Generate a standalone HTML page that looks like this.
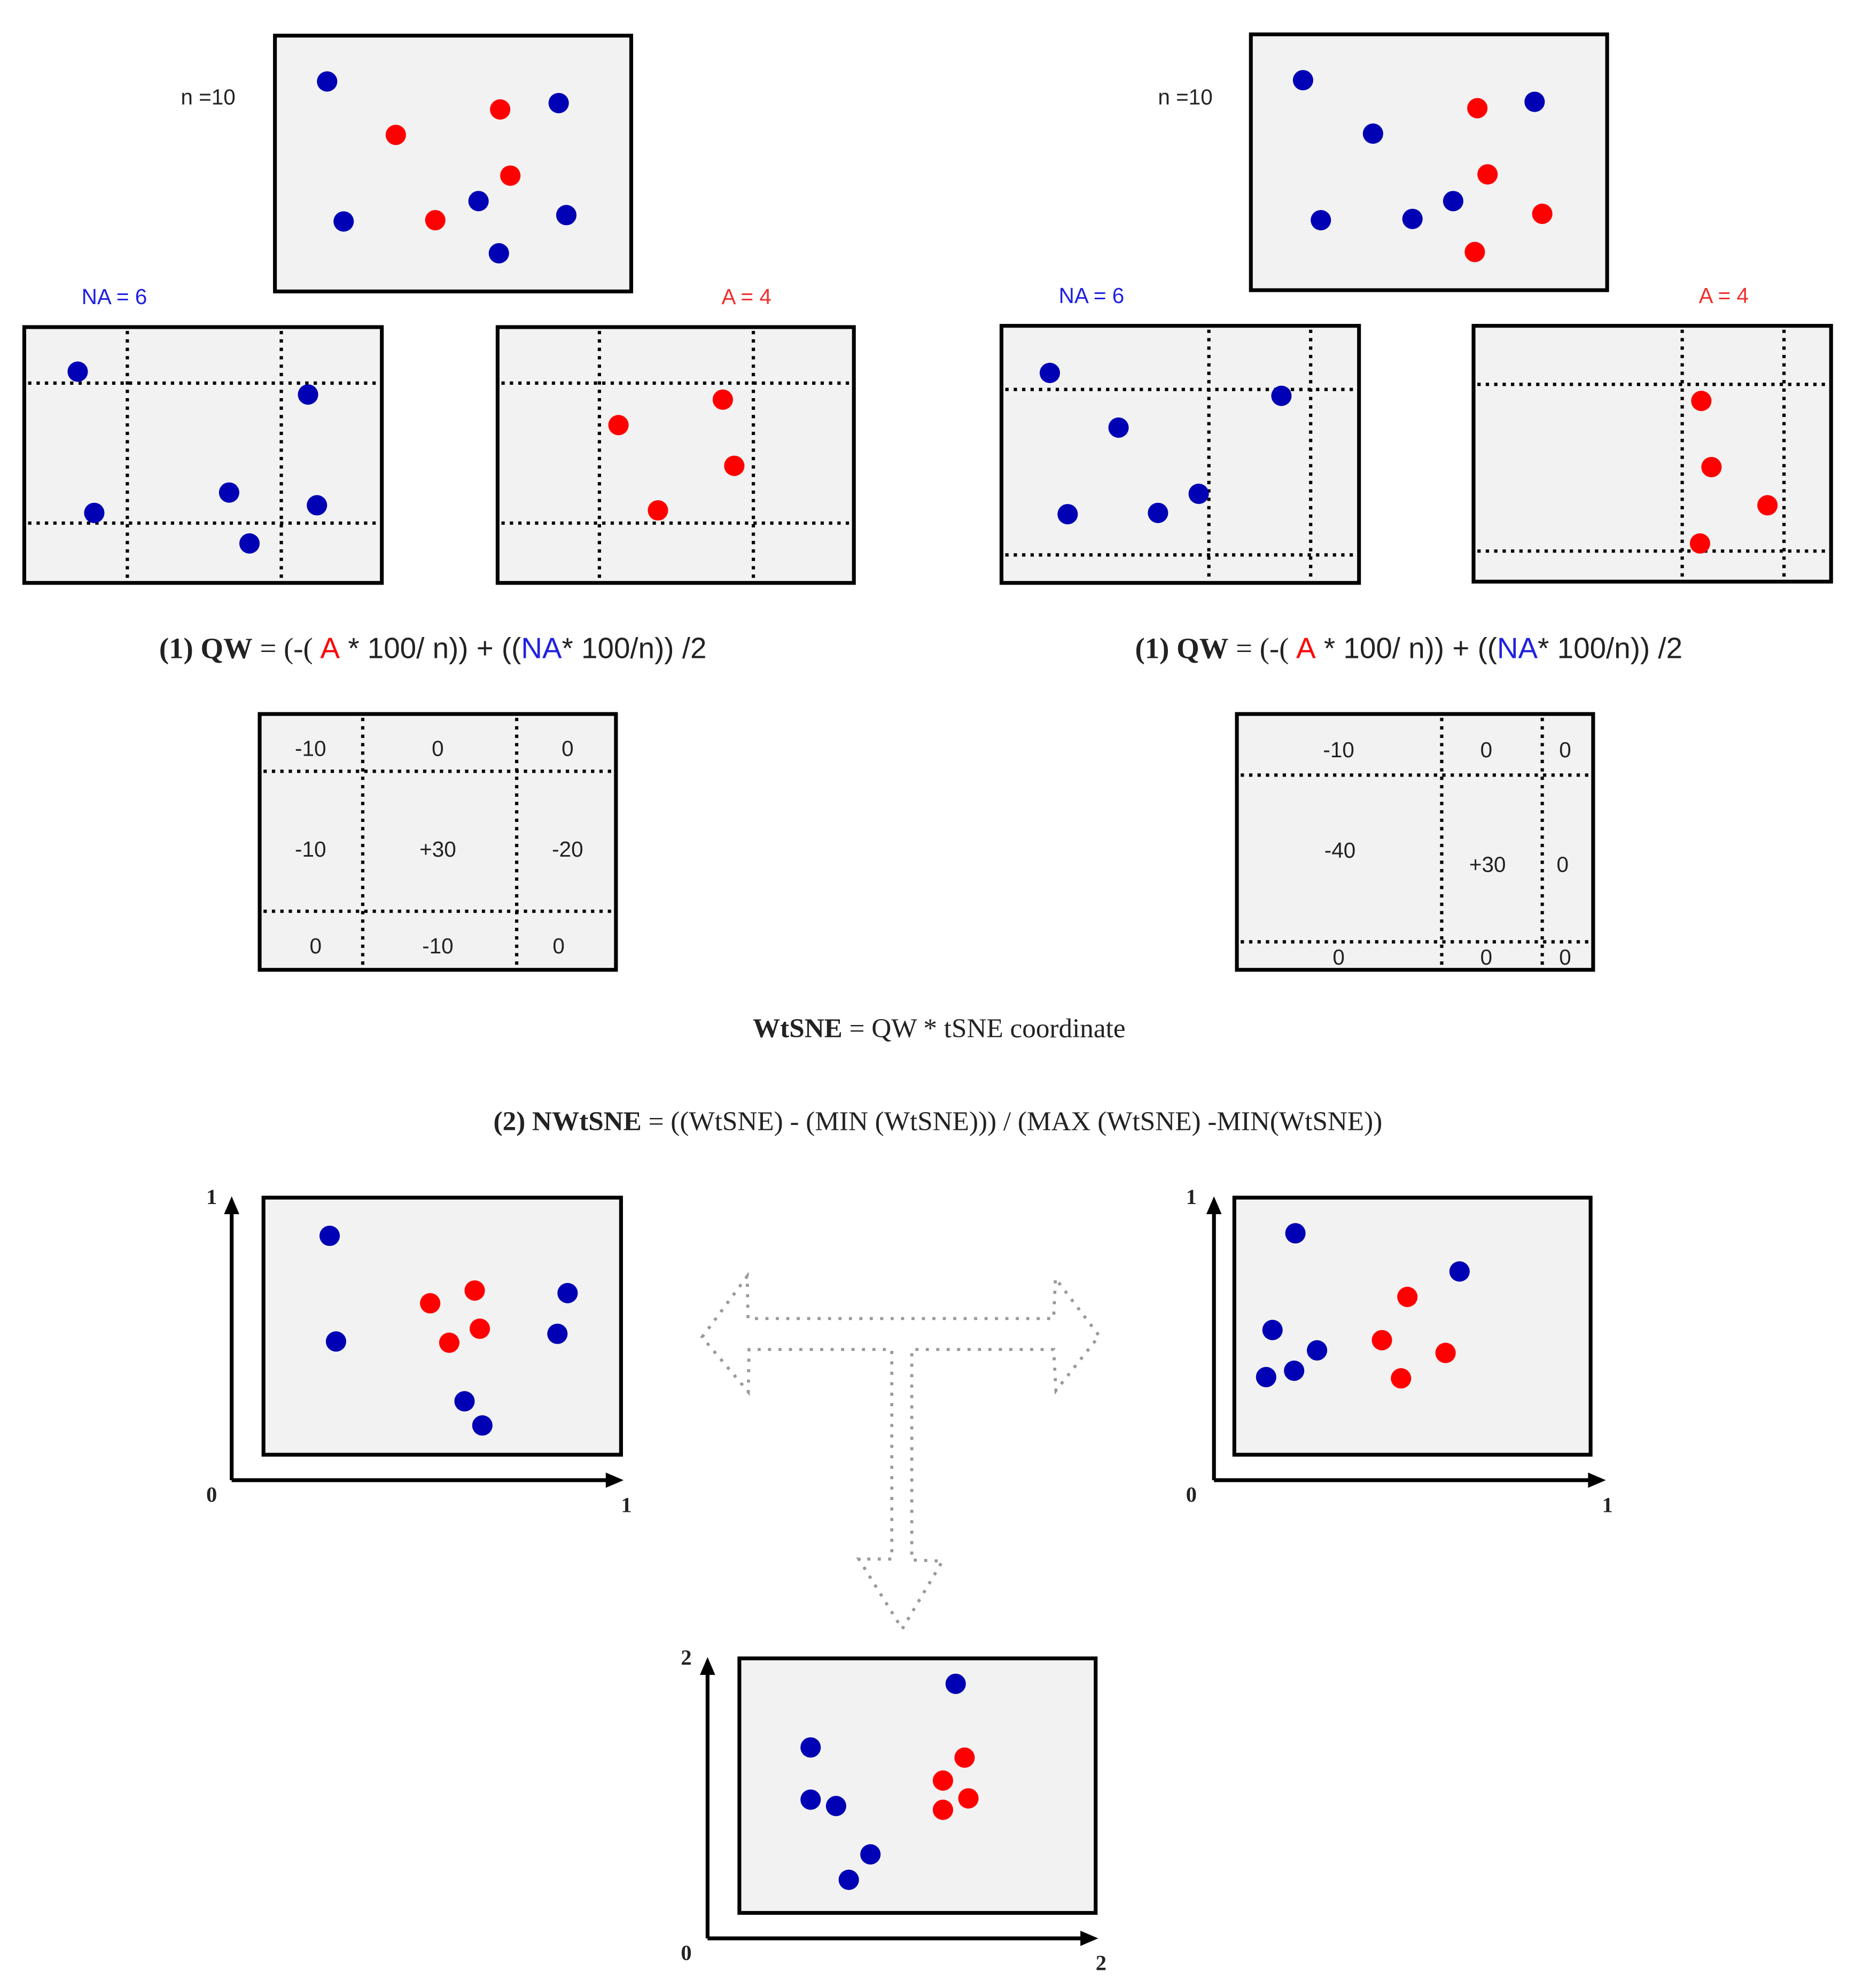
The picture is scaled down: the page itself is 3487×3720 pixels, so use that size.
<!DOCTYPE html>
<html><head><meta charset="utf-8"><style>
html,body{margin:0;padding:0;background:#fff;}
svg{display:block}
.s{font-family:"Liberation Sans",sans-serif}
.r{font-family:"Liberation Serif",serif}
</style></head><body>
<svg width="3487" height="3720" viewBox="0 0 1464 1562" xmlns="http://www.w3.org/2000/svg">
<defs>
<style>
.box{fill:#f2f2f2;stroke:#000;stroke-width:3}
.dl{stroke:#000;stroke-width:2.6;stroke-dasharray:2.6 4;fill:none}
.b{fill:#0000b4}
.d{fill:#f00}
.ax{stroke:#000;stroke-width:3;fill:none}
</style>
</defs>

<!-- top left -->
<text x="142" y="82" class="s" font-size="17" fill="#222">n =10</text>
<rect class="box" x="216" y="28" width="280" height="201"/>
<g class="b"><circle cx="257" cy="64" r="8"/><circle cx="439" cy="81" r="8"/><circle cx="270" cy="174" r="8"/><circle cx="376" cy="158" r="8"/><circle cx="445" cy="169" r="8"/><circle cx="392" cy="199" r="8"/></g>
<g class="d"><circle cx="311" cy="106" r="8"/><circle cx="393" cy="86" r="8"/><circle cx="401" cy="138" r="8"/><circle cx="342" cy="173" r="8"/></g>

<text x="64" y="239" class="s" font-size="17" fill="#2020e0">NA = 6</text>
<rect class="box" x="19" y="257" width="281" height="201"/>
<path class="dl" d="M22 301H300M22 411H300M100 260V458M221 260V458"/>
<g class="b"><circle cx="61" cy="292" r="8"/><circle cx="242" cy="310" r="8"/><circle cx="74" cy="403" r="8"/><circle cx="180" cy="387" r="8"/><circle cx="249" cy="397" r="8"/><circle cx="196" cy="427" r="8"/></g>

<text x="567" y="239" class="s" font-size="17" fill="#f03030">A = 4</text>
<rect class="box" x="391" y="257" width="280" height="201"/>
<path class="dl" d="M394 301H671M394 411H671M471 260V458M592 260V458"/>
<g class="d"><circle cx="486" cy="334" r="8"/><circle cx="568" cy="314" r="8"/><circle cx="577" cy="366" r="8"/><circle cx="517" cy="401" r="8"/></g>

<text x="125" y="517" font-size="23" fill="#222"><tspan class="r" font-weight="bold">(1) QW</tspan><tspan class="r"> = (-( </tspan><tspan class="s" fill="#f00">A</tspan><tspan class="s"> * 100/ n)) + ((</tspan><tspan class="s" fill="#2020e0">NA</tspan><tspan class="s">* 100/n)) /2</tspan></text>

<!-- top right -->
<g transform="translate(-3,0)">
<text x="913" y="82" class="s" font-size="17" fill="#222">n =10</text>
<rect class="box" x="986" y="27" width="280" height="201"/>
<g class="b"><circle cx="1027" cy="63" r="8"/><circle cx="1082" cy="105" r="8"/><circle cx="1209" cy="80" r="8"/><circle cx="1041" cy="173" r="8"/><circle cx="1113" cy="172" r="8"/><circle cx="1145" cy="158" r="8"/></g>
<g class="d"><circle cx="1164" cy="85" r="8"/><circle cx="1172" cy="137" r="8"/><circle cx="1215" cy="168" r="8"/><circle cx="1162" cy="198" r="8"/></g>

<text x="835" y="238" class="s" font-size="17" fill="#2020e0">NA = 6</text>
<rect class="box" x="790" y="256" width="281" height="202"/>
<path class="dl" d="M793 306H1071M793 436H1071M953 259V458M1033 259V458"/>
<g class="b"><circle cx="828" cy="293" r="8"/><circle cx="882" cy="336" r="8"/><circle cx="1010" cy="311" r="8"/><circle cx="842" cy="404" r="8"/><circle cx="913" cy="403" r="8"/><circle cx="945" cy="388" r="8"/></g>

<text x="1338" y="238" class="s" font-size="17" fill="#f03030">A = 4</text>
<rect class="box" x="1161" y="256" width="281" height="201"/>
<path class="dl" d="M1164 302H1442M1164 433H1442M1325 259V457M1405 259V457"/>
<g class="d"><circle cx="1340" cy="315" r="8"/><circle cx="1348" cy="367" r="8"/><circle cx="1392" cy="397" r="8"/><circle cx="1339" cy="427" r="8"/></g>

<text x="895" y="517" font-size="23" fill="#222"><tspan class="r" font-weight="bold">(1) QW</tspan><tspan class="r"> = (-( </tspan><tspan class="s" fill="#f00">A</tspan><tspan class="s"> * 100/ n)) + ((</tspan><tspan class="s" fill="#2020e0">NA</tspan><tspan class="s">* 100/n)) /2</tspan></text>

<rect class="box" x="975" y="561" width="280" height="201"/>
<path class="dl" d="M978 609H1255M978 740H1255M1136 564V762M1215 564V762"/>
<g class="s" font-size="17" fill="#222" text-anchor="middle">
<text x="1055" y="595">-10</text><text x="1171" y="595">0</text><text x="1233" y="595">0</text>
<text x="1056" y="674">-40</text><text x="1172" y="685">+30</text><text x="1231" y="685">0</text>
<text x="1055" y="758">0</text><text x="1171" y="758">0</text><text x="1233" y="758">0</text>
</g>

<!-- bottom right plot -->
<rect class="box" x="973" y="941" width="280" height="202"/>
<path class="ax" d="M957 1163V950M957 1163H1255"/>
<path d="M951 954L957 940L963 954Z M1251 1157L1265 1163L1251 1169Z" fill="#000"/>
<g class="r" font-size="17" font-weight="bold" fill="#222"><text x="935" y="946">1</text><text x="935" y="1180">0</text><text x="1262" y="1188">1</text></g>
<g class="b"><circle cx="1021" cy="969" r="8"/><circle cx="1150" cy="999" r="8"/><circle cx="1003" cy="1045" r="8"/><circle cx="1038" cy="1061" r="8"/><circle cx="998" cy="1082" r="8"/><circle cx="1020" cy="1077" r="8"/></g>
<g class="d"><circle cx="1109" cy="1019" r="8"/><circle cx="1089" cy="1053" r="8"/><circle cx="1139" cy="1063" r="8"/><circle cx="1104" cy="1083" r="8"/></g>
</g>

<!-- tables -->
<rect class="box" x="204" y="561" width="280" height="201"/>
<path class="dl" d="M207 606H484M207 716H484M285 564V762M406 564V762"/>
<g class="s" font-size="17" fill="#222" text-anchor="middle">
<text x="244" y="594">-10</text><text x="344" y="594">0</text><text x="446" y="594">0</text>
<text x="244" y="673">-10</text><text x="344" y="673">+30</text><text x="446" y="673">-20</text>
<text x="248" y="749">0</text><text x="344" y="749">-10</text><text x="439" y="749">0</text>
</g>

<text x="738" y="815" text-anchor="middle" class="r" font-size="21.5" fill="#222"><tspan font-weight="bold">WtSNE</tspan>  = QW * tSNE coordinate</text>
<text x="737" y="888" text-anchor="middle" class="r" font-size="21.5" fill="#222"><tspan font-weight="bold">(2) NWtSNE</tspan> = ((WtSNE) - (MIN (WtSNE))) / (MAX (WtSNE) -MIN(WtSNE))</text>

<!-- bottom left plot -->
<rect class="box" x="207" y="941" width="281" height="202"/>
<path class="ax" d="M182 1163V950M182 1163H480"/>
<path d="M176 954L182 940L188 954Z M476 1157L490 1163L476 1169Z" fill="#000"/>
<g class="r" font-size="17" font-weight="bold" fill="#222"><text x="162" y="946">1</text><text x="162" y="1180">0</text><text x="488" y="1188">1</text></g>
<g class="b"><circle cx="259" cy="971" r="8"/><circle cx="264" cy="1054" r="8"/><circle cx="446" cy="1016" r="8"/><circle cx="438" cy="1048" r="8"/><circle cx="365" cy="1101" r="8"/><circle cx="379" cy="1120" r="8"/></g>
<g class="d"><circle cx="338" cy="1024" r="8"/><circle cx="373" cy="1014" r="8"/><circle cx="377" cy="1044" r="8"/><circle cx="353" cy="1055" r="8"/></g>

<!-- T arrow -->
<polygon points="551.7,1050.6 587.2,1002.7 587.8,1036 828,1036 829.4,1004.4 863.8,1049.6 829.8,1092.6 828,1060.3 716.5,1060.3 716.5,1225.7 740.6,1226.6 709,1279.9 674.9,1225 700.8,1225 700.8,1060.3 588.6,1060.3 588,1093.6" fill="none" stroke="#999" stroke-width="2.4" stroke-dasharray="2.4 5.8"/>

<!-- bottom center plot -->
<rect class="box" x="581" y="1303" width="280" height="200"/>
<path class="ax" d="M556 1523V1312M556 1523H853"/>
<path d="M550 1316L556 1302L562 1316Z M849 1517L863 1523L849 1529Z" fill="#000"/>
<g class="r" font-size="17" font-weight="bold" fill="#222"><text x="535" y="1308">2</text><text x="535" y="1540">0</text><text x="861" y="1548">2</text></g>
<g class="b"><circle cx="751" cy="1323" r="8"/><circle cx="637" cy="1373" r="8"/><circle cx="637" cy="1414" r="8"/><circle cx="657" cy="1419" r="8"/><circle cx="684" cy="1457" r="8"/><circle cx="667" cy="1477" r="8"/></g>
<g class="d"><circle cx="758" cy="1381" r="8"/><circle cx="741" cy="1399" r="8"/><circle cx="761" cy="1413" r="8"/><circle cx="741" cy="1422" r="8"/></g>
</svg>
</body></html>
